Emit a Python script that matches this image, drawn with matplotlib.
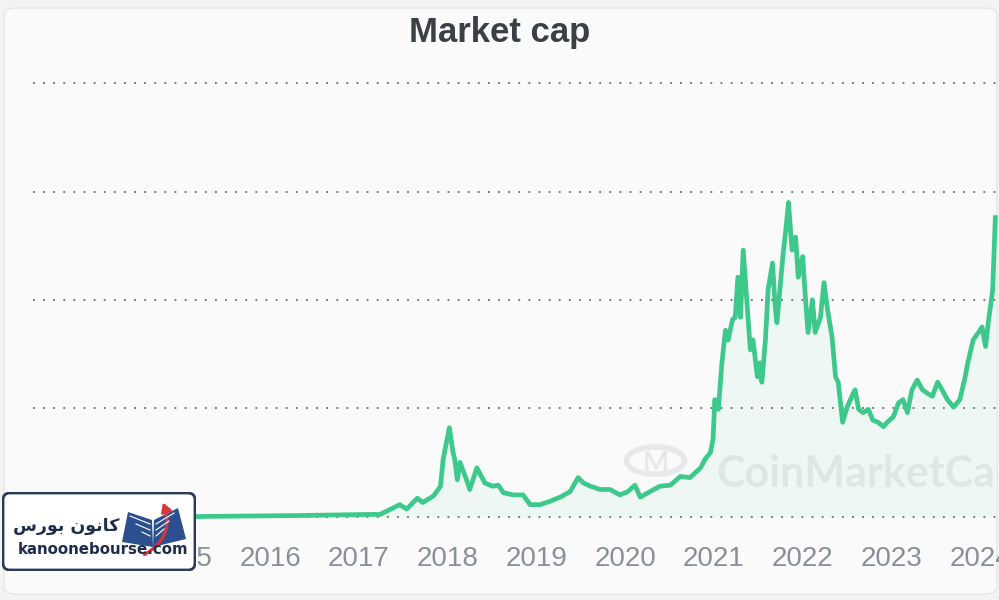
import matplotlib.pyplot as plt
from matplotlib.patches import FancyBboxPatch, Polygon, FancyArrowPatch, Circle

# total market cap, trillions USD (decimal years)
years = [2013.33, 2015.10, 2016.34, 2017.13, 2017.24, 2017.46, 2017.54, 2017.66, 2017.72,
         2017.84, 2017.92, 2017.95, 2018.02, 2018.06, 2018.08, 2018.11, 2018.14, 2018.20,
         2018.25, 2018.33, 2018.42, 2018.51, 2018.57, 2018.63, 2018.74, 2018.85, 2018.93,
         2019.04, 2019.15, 2019.27, 2019.38, 2019.47, 2019.53, 2019.61, 2019.72, 2019.83,
         2019.94, 2020.03, 2020.11, 2020.17, 2020.28, 2020.39, 2020.51, 2020.62, 2020.73,
         2020.85, 2020.90, 2020.96, 2020.99, 2021.01, 2021.05, 2021.09, 2021.13, 2021.16,
         2021.21, 2021.24, 2021.27, 2021.30, 2021.33, 2021.37, 2021.41, 2021.44, 2021.49,
         2021.52, 2021.54, 2021.58, 2021.61, 2021.66, 2021.69, 2021.71, 2021.75, 2021.78,
         2021.81, 2021.84, 2021.88, 2021.92, 2021.95, 2022.00, 2022.03, 2022.06, 2022.11,
         2022.14, 2022.20, 2022.24, 2022.28, 2022.33, 2022.37, 2022.40, 2022.45, 2022.50,
         2022.57, 2022.59, 2022.63, 2022.68, 2022.74, 2022.79, 2022.85, 2022.91, 2022.95,
         2023.02, 2023.08, 2023.13, 2023.18, 2023.23, 2023.29, 2023.35, 2023.40, 2023.46,
         2023.52, 2023.57, 2023.63, 2023.70, 2023.77, 2023.83, 2023.86, 2023.92, 2023.98,
         2024.02, 2024.06, 2024.09, 2024.14, 2024.17]
mcap = [0.00, 0.00, 0.01, 0.02, 0.02, 0.11, 0.07, 0.17, 0.13,
        0.19, 0.28, 0.53, 0.82, 0.60, 0.53, 0.34, 0.50, 0.37,
        0.25, 0.45, 0.31, 0.28, 0.29, 0.22, 0.20, 0.20, 0.11,
        0.11, 0.14, 0.18, 0.23, 0.36, 0.31, 0.28, 0.25, 0.25,
        0.20, 0.23, 0.29, 0.18, 0.23, 0.28, 0.29, 0.37, 0.36,
        0.45, 0.53, 0.59, 0.71, 1.08, 0.99, 1.42, 1.72, 1.63,
        1.82, 1.84, 2.21, 1.84, 2.46, 2.00, 1.54, 1.63, 1.29,
        1.42, 1.24, 1.63, 2.09, 2.34, 1.94, 1.79, 2.16, 2.43,
        2.65, 2.90, 2.46, 2.58, 2.21, 2.40, 2.03, 1.70, 2.00,
        1.70, 1.84, 2.16, 1.91, 1.66, 1.29, 1.24, 0.87, 1.01,
        1.14, 1.17, 0.99, 0.96, 0.99, 0.89, 0.87, 0.83, 0.87,
        0.92, 1.05, 1.08, 0.96, 1.17, 1.26, 1.17, 1.14, 1.11,
        1.24, 1.17, 1.08, 1.01, 1.08, 1.29, 1.42, 1.63, 1.70,
        1.75, 1.57, 1.79, 2.09, 2.76]
tick_years = list(range(2014, 2025))
grid_levels = [0, 1, 2, 3, 4]

green = '#3cc98b'

fig = plt.figure(figsize=(9.99, 6), dpi=100)
fig.set_facecolor('#f3f3f3')
card = FancyBboxPatch((4 / 999, 6 / 600), 993 / 999, 586 / 600,
                      boxstyle='round,pad=0,rounding_size=0.012',
                      transform=fig.transFigure, facecolor='#fafafa',
                      edgecolor='#e6e6e6', lw=1, zorder=-2)
fig.add_artist(card)

ax = fig.add_axes([33 / 999, 78 / 600, 965 / 999, 455 / 600])
ax.set_facecolor('none')

# faint CoinMarketCap watermark
ax.text(0.708, 0.105, 'CoinMarketCap', transform=ax.transAxes, fontsize=31,
        family='Lato', weight='bold', color='#e8eaec', ha='left', va='center',
        zorder=0, clip_on=True)
ax.add_patch(Circle((0.645, 0.135), 0.03, transform=ax.transAxes, fill=False,
                    edgecolor='#e6e8ea', lw=4, zorder=0))
ax.text(0.645, 0.128, 'M', transform=ax.transAxes, fontsize=20, family='Lato',
        weight='bold', color='#e6e8ea', ha='center', va='center', zorder=0)

ax.fill_between(years, mcap, 0, color=green, alpha=0.06, lw=0, zorder=1)
ax.plot(years, mcap, color=green, lw=3.4, solid_joinstyle='round', zorder=3)

ax.set_xlim(2013.33, 2024.2)
ax.set_ylim(-0.05, 4.15)
ax.set_yticks(grid_levels)
ax.set_xticks(tick_years)
ax.set_xticklabels([str(y) for y in tick_years])
ax.grid(axis='y', color='#6b6b6b', linestyle=(0, (1, 4.6)), linewidth=1.3, zorder=0)
ax.grid(axis='x', visible=False)
ax.tick_params(axis='y', length=0, labelleft=False)
ax.tick_params(axis='x', length=0, pad=17, labelsize=20, labelcolor='#8a9099')
for lbl in ax.get_xticklabels():
    lbl.set_family(['Liberation Sans Narrow', 'Liberation Sans'])
for s in ax.spines.values():
    s.set_visible(False)

fig.text(0.5, (600 - 42) / 600, 'Market cap', ha='center', va='baseline',
         fontsize=25, weight='bold', color='#3b3f46', family='Liberation Sans')

# kanoonebourse logo box
lg = fig.add_axes([2 / 999, 29 / 600, 194 / 999, 79 / 600], zorder=5)
lg.set_xlim(0, 194)
lg.set_ylim(79, 0)
lg.axis('off')
lg.add_patch(FancyBboxPatch((1, 1), 192, 77, boxstyle='round,pad=0,rounding_size=7',
                            facecolor='white', edgecolor='#2b3a55', lw=2))
lg.add_patch(Polygon([(120, 50), (126, 20), (150, 28), (151, 55)],
                     closed=True, facecolor='#2c4f8f', edgecolor='none'))
lg.add_patch(Polygon([(151, 55), (152, 28), (176, 16), (184, 47)],
                     closed=True, facecolor='#2c4f8f', edgecolor='none'))
for k in range(3):
    lg.plot([128 + k * 6, 148], [24 + k * 8, 32 + k * 6], color='white', lw=0.8)
    lg.plot([154, 172 - k * 5], [32 + k * 6, 21 + k * 8], color='white', lw=0.8)
lg.add_patch(FancyArrowPatch((140, 64), (160, 8), connectionstyle='arc3,rad=0.45',
                             arrowstyle='-|>,head_length=5,head_width=3',
                             color='#d93636', lw=2.2))
lg.text(64, 34, '\uFEB1\uFEAD\uFEEE\uFE91 \uFEE5\uFEEE\uFEE7\uFE8E\uFB90', ha='center',
        va='center', fontsize=12.5, weight='bold', color='#1f2d4d', family='DejaVu Sans')
lg.text(101, 57, 'kanoonebourse.com', ha='center', va='center', fontsize=10.8,
        weight='bold', color='#1f2d4d', family='DejaVu Sans')

plt.savefig('out.png', dpi=100, facecolor=fig.get_facecolor())
plt.close()
